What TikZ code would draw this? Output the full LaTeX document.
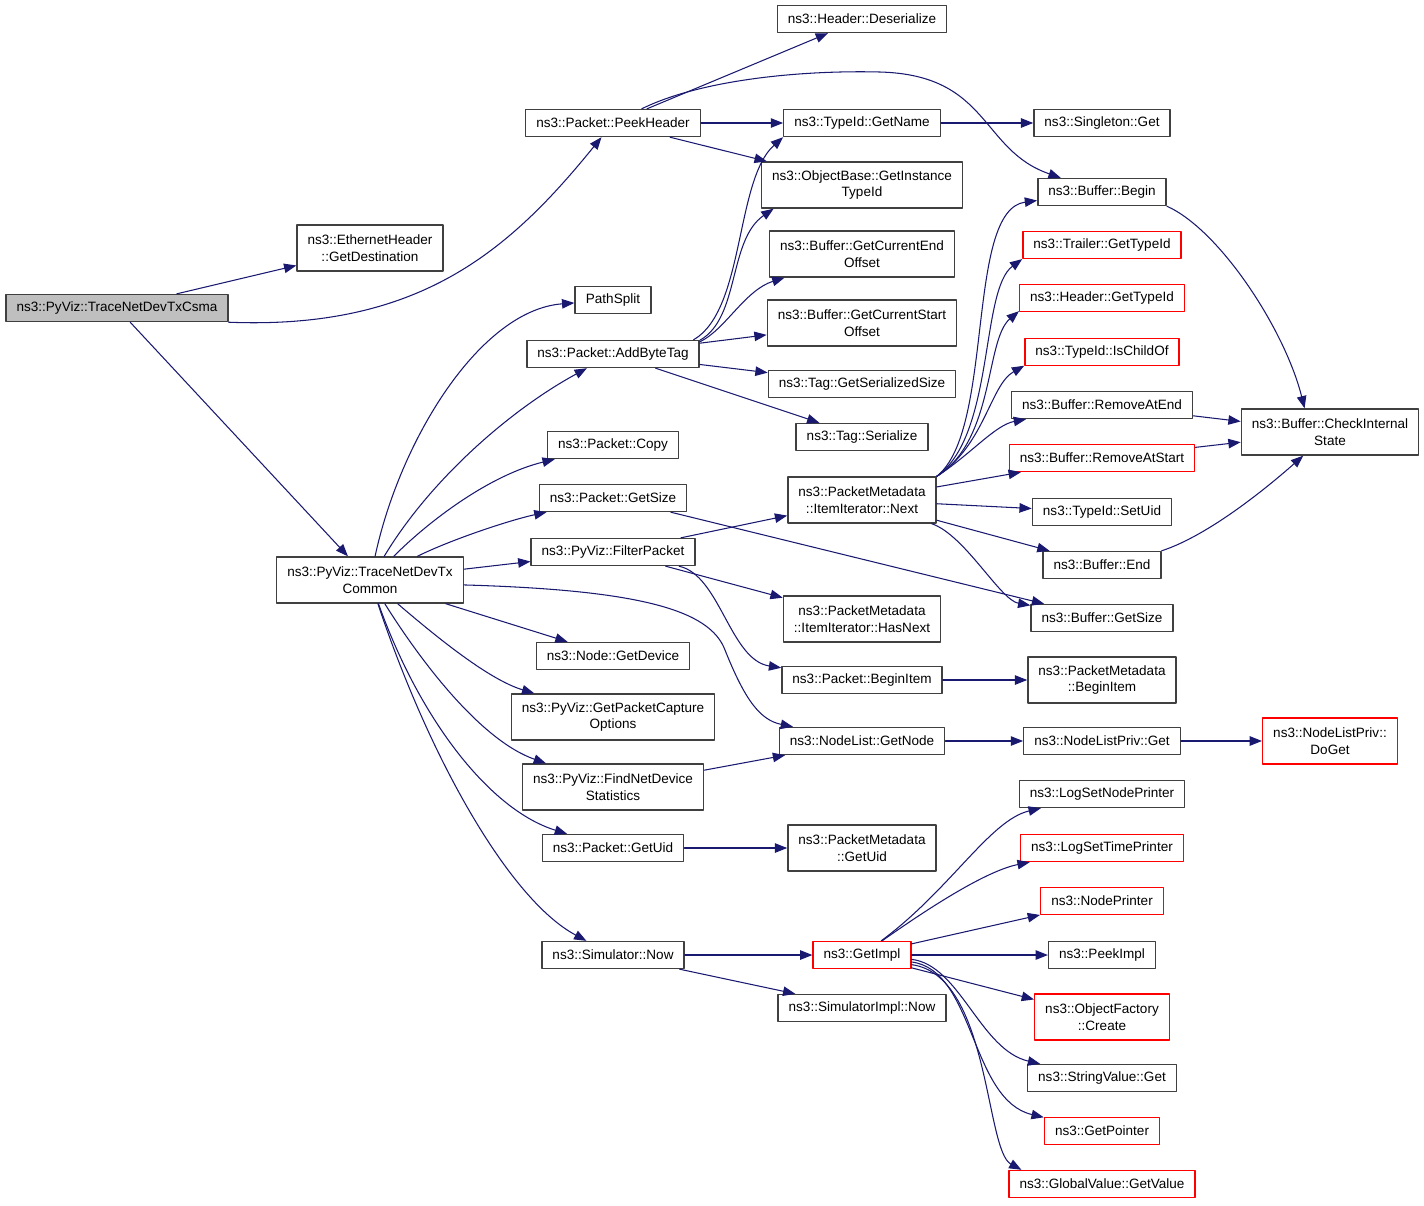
\documentclass[tikz,border=0pt]{standalone}
\usepackage{fontspec}
\setmainfont{Liberation Sans}
\usetikzlibrary{arrows.meta}
\definecolor{edgeblue}{HTML}{191970}
\definecolor{boxgray}{HTML}{404040}
\definecolor{rootfill}{HTML}{BFBFBF}
\begin{document}
\begin{tikzpicture}[x=0.02cm,y=-0.02cm,>={Triangle[length=7pt,width=5.4pt]}, font=\fontsize{7.7}{9.6}\selectfont, line join=round, line cap=round,
	fn/.style={draw=boxgray,line width=0.8pt,fill=white,inner xsep=6pt,inner ysep=2pt,minimum height=0.54cm,align=center},
	fnred/.style={fn,draw=red},
	fnroot/.style={fn,fill=rootfill},
	tall/.style={minimum height=0.92cm},
	call/.style={->,draw=edgeblue,line width=0.6pt}]
	\useasboundingbox (0,0) rectangle (1424,1205);
	% functions
	\node[fnroot] (csma) at (117,308) {ns3::PyViz::TraceNetDevTxCsma};
	\node[fn,tall] (ethdest) at (370,248) {ns3::EthernetHeader\\::GetDestination};
	\node[fn] (peekhdr) at (613,123) {ns3::Packet::PeekHeader};
	\node[fn] (hdrdeser) at (862,19) {ns3::Header::Deserialize};
	\node[fn] (tidname) at (862,123) {ns3::TypeId::GetName};
	\node[fn] (singget) at (1102,123) {ns3::Singleton::Get};
	\node[fn,tall] (instid) at (862,185) {ns3::ObjectBase::GetInstance\\TypeId};
	\node[fn] (bufbegin) at (1102,192) {ns3::Buffer::Begin};
	\node[fn,tall] (curend) at (862,254) {ns3::Buffer::GetCurrentEnd\\Offset};
	\node[fnred] (trailtid) at (1102,245) {ns3::Trailer::GetTypeId};
	\node[fn,minimum width=1.52cm] (pathsplit) at (613,300) {PathSplit};
	\node[fn,tall] (curstart) at (862,323) {ns3::Buffer::GetCurrentStart\\Offset};
	\node[fnred] (hdrtid) at (1102,298) {ns3::Header::GetTypeId};
	\node[fn] (addtag) at (613,354) {ns3::Packet::AddByteTag};
	\node[fnred] (ischild) at (1102,352) {ns3::TypeId::IsChildOf};
	\node[fn] (tagsize) at (862,384) {ns3::Tag::GetSerializedSize};
	\node[fn] (rmend) at (1102,405) {ns3::Buffer::RemoveAtEnd};
	\node[fn,tall] (checkst) at (1330,432) {ns3::Buffer::CheckInternal\\State};
	\node[fn] (tagser) at (862,437) {ns3::Tag::Serialize};
	\node[fn] (pktcopy) at (613,445) {ns3::Packet::Copy};
	\node[fnred] (rmstart) at (1102,458) {ns3::Buffer::RemoveAtStart};
	\node[fn,tall] (itnext) at (862,500) {ns3::PacketMetadata\\::ItemIterator::Next};
	\node[fn] (pktsize) at (613,498) {ns3::Packet::GetSize};
	\node[fn] (setuid) at (1102,512) {ns3::TypeId::SetUid};
	\node[fn] (filterpkt) at (613,552) {ns3::PyViz::FilterPacket};
	\node[fn,tall] (common) at (370,580) {ns3::PyViz::TraceNetDevTx\\Common};
	\node[fn] (bufend) at (1102,565) {ns3::Buffer::End};
	\node[fn,tall] (hasnext) at (862,619) {ns3::PacketMetadata\\::ItemIterator::HasNext};
	\node[fn] (bufsize) at (1102,618) {ns3::Buffer::GetSize};
	\node[fn] (getdev) at (613,656) {ns3::Node::GetDevice};
	\node[fn] (beginitem) at (862,680) {ns3::Packet::BeginItem};
	\node[fn,tall] (pmbegin) at (1102,680) {ns3::PacketMetadata\\::BeginItem};
	\node[fn,tall] (capopts) at (613,717) {ns3::PyViz::GetPacketCapture\\Options};
	\node[fn] (getnode) at (862,741) {ns3::NodeList::GetNode};
	\node[fn] (nlget) at (1102,741) {ns3::NodeListPriv::Get};
	\node[fnred,tall] (doget) at (1330,741) {ns3::NodeListPriv::\\DoGet};
	\node[fn,tall] (finddev) at (613,787) {ns3::PyViz::FindNetDevice\\Statistics};
	\node[fn] (lognode) at (1102,794) {ns3::LogSetNodePrinter};
	\node[fn] (getuid) at (613,848) {ns3::Packet::GetUid};
	\node[fn,tall] (pmuid) at (862,848) {ns3::PacketMetadata\\::GetUid};
	\node[fnred] (logtime) at (1102,848) {ns3::LogSetTimePrinter};
	\node[fnred] (nodeprn) at (1102,901) {ns3::NodePrinter};
	\node[fn] (simnow) at (613,955) {ns3::Simulator::Now};
	\node[fnred] (getimpl) at (862,955) {ns3::GetImpl};
	\node[fn] (peekimpl) at (1102,955) {ns3::PeekImpl};
	\node[fnred,tall] (ofcreate) at (1102,1017) {ns3::ObjectFactory\\::Create};
	\node[fn] (simimpl) at (862,1008) {ns3::SimulatorImpl::Now};
	\node[fn] (strget) at (1102,1078) {ns3::StringValue::Get};
	\node[fnred] (getptr) at (1102,1131) {ns3::GetPointer};
	\node[fnred] (gvget) at (1102,1184) {ns3::GlobalValue::GetValue};
	% calls
	\draw[call] (csma) -- (ethdest);
	\draw[call] (csma.south east) .. controls (420,330) and (510,250) .. (peekhdr);
	\draw[call] (csma) -- (common);
	\draw[call] (peekhdr) -- (hdrdeser);
	\draw[call] (peekhdr) -- (tidname);
	\draw[call] (peekhdr) -- (instid);
	\draw[call] (peekhdr) .. controls (700,80) and (800,70) .. (880,72) .. controls (990,75) and (980,150) .. (bufbegin);
	\draw[call] (tidname) -- (singget);
	\draw[call] (addtag.10) .. controls (745,310) and (735,180) .. (tidname.south west);
	\draw[call] (addtag.9) .. controls (740,318) and (728,240) .. (instid.-165);
	\draw[call] (addtag.8) .. controls (725,330) and (745,290) .. (curend.-163);
	\draw[call] (addtag) -- (curstart);
	\draw[call] (addtag) -- (tagsize);
	\draw[call] (addtag) -- (tagser);
	\draw[call] (common) .. controls (400,440) and (480,310) .. (pathsplit);
	\draw[call] (common) .. controls (430,480) and (510,410) .. (addtag);
	\draw[call] (common) .. controls (430,520) and (490,475) .. (pktcopy);
	\draw[call] (common) .. controls (450,540) and (510,520) .. (pktsize);
	\draw[call] (common) -- (filterpkt);
	\draw[call] (common.-3) .. controls (640,590) and (710,610) .. (725,650) .. controls (745,700) and (760,720) .. (getnode);
	\draw[call] (common) -- (getdev);
	\draw[call] (common) .. controls (440,640) and (490,680) .. (capopts);
	\draw[call] (common) .. controls (420,660) and (480,740) .. (finddev);
	\draw[call] (common) .. controls (420,720) and (490,810) .. (getuid);
	\draw[call] (common) .. controls (430,760) and (510,900) .. (simnow);
	\draw[call] (pktsize) -- (bufsize);
	\draw[call] (filterpkt) -- (itnext);
	\draw[call] (filterpkt) -- (hasnext);
	\draw[call] (filterpkt) .. controls (720,575) and (730,660) .. (beginitem);
	\draw[call] (itnext.north east) .. controls (995,430) and (965,210) .. (bufbegin);
	\draw[call] (itnext.north east) .. controls (995,435) and (980,290) .. (trailtid.-170);
	\draw[call] (itnext.north east) .. controls (995,440) and (985,340) .. (hdrtid.-171);
	\draw[call] (itnext.north east) .. controls (985,445) and (990,385) .. (ischild.-170);
	\draw[call] (itnext.north east) .. controls (970,455) and (995,425) .. (rmend);
	\draw[call] (itnext) -- (rmstart);
	\draw[call] (itnext) -- (setuid);
	\draw[call] (itnext) -- (bufend);
	\draw[call] (itnext) .. controls (965,535) and (1000,600) .. (bufsize);
	\draw[call] (bufbegin.south east) .. controls (1220,230) and (1285,330) .. (checkst.137);
	\draw[call] (rmend) -- (checkst);
	\draw[call] (rmstart) -- (checkst);
	\draw[call] (bufend.north east) .. controls (1210,535) and (1270,485) .. (checkst);
	\draw[call] (beginitem) -- (pmbegin);
	\draw[call] (finddev) -- (getnode);
	\draw[call] (getnode) -- (nlget);
	\draw[call] (nlget) -- (doget);
	\draw[call] (getuid) -- (pmuid);
	\draw[call] (simnow) -- (getimpl);
	\draw[call] (simnow) -- (simimpl);
	\draw[call] (getimpl) .. controls (950,890) and (990,820) .. (lognode);
	\draw[call] (getimpl) .. controls (940,900) and (990,870) .. (logtime);
	\draw[call] (getimpl) -- (nodeprn);
	\draw[call] (getimpl) -- (peekimpl);
	\draw[call] (getimpl) -- (ofcreate);
	\draw[call] (getimpl.-5) .. controls (960,965) and (980,1050) .. (strget);
	\draw[call] (getimpl.-8) .. controls (975,970) and (970,1100) .. (getptr);
	\draw[call] (getimpl.-11) .. controls (990,975) and (985,1150) .. (gvget.170);
\end{tikzpicture}
\end{document}
